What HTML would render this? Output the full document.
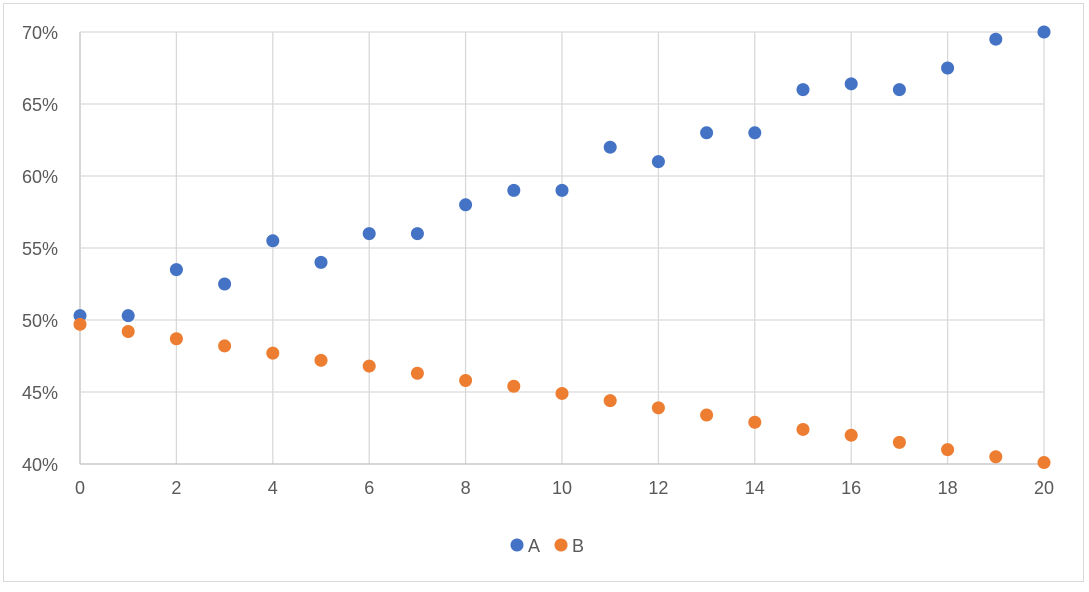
<!DOCTYPE html>
<html><head><meta charset="utf-8"><style>
body{margin:0;background:#fff;font-family:"Liberation Sans",sans-serif}
svg text{font-family:"Liberation Sans",sans-serif;fill:#595959;font-size:18px}
</style></head><body>
<svg id="chart" width="1089" height="587" xmlns="http://www.w3.org/2000/svg">
<rect x="3.5" y="3.5" width="1080" height="578" fill="#fff" stroke="#d9d9d9"/>
<g id="grid"></g><g id="pts"></g>
<g>
<circle cx="517" cy="545" r="6.5" fill="#4472c4"/>
<text x="528" y="552">A</text>
<circle cx="561" cy="545" r="6.5" fill="#ed7d31"/>
<text x="572" y="552">B</text>
</g>
</svg>
<script>
const xTicks=[0,2,4,6,8,10,12,14,16,18,20];
const yTicks=[40,45,50,55,60,65,70];
const seriesA=[50.3,50.3,53.5,52.5,55.5,54,56,56,58,59,59,62,61,63,63,66,66.4,66,67.5,69.5,70];
const seriesB=[49.7,49.2,48.7,48.2,47.7,47.2,46.8,46.3,45.8,45.4,44.9,44.4,43.9,43.4,42.9,42.4,42.0,41.5,41.0,40.5,40.1];
const L=80,R=1044,T=32,B=464;
const sx=v=>L+(v-0)/20*(R-L);
const sy=v=>B-(v-40)/30*(B-T);
const NS="http://www.w3.org/2000/svg";
const g=document.getElementById('grid'),p=document.getElementById('pts');
function mk(t,a,par){const e=document.createElementNS(NS,t);for(const k in a)e.setAttribute(k,a[k]);par.appendChild(e);return e;}
xTicks.forEach(v=>{
 const l=mk('line',{x1:sx(v),x2:sx(v),y1:T,y2:B,stroke:v===0?'#bfbfbf':'#d9d9d9','stroke-width':1.3},g);
 
 
 const t=mk('text',{x:sx(v),y:B+30,'text-anchor':'middle'},g);t.textContent=v;
 
 
});
yTicks.forEach(v=>{
 const l=mk('line',{x1:L,x2:R,y1:sy(v),y2:sy(v),stroke:v===40?'#bfbfbf':'#d9d9d9','stroke-width':1.3},g);
 
 
 const t=mk('text',{x:58,y:sy(v)+7,'text-anchor':'end'},g);t.textContent=v+'%';
 
 
});
seriesA.forEach((v,i)=>{const c=mk('circle',{cx:sx(i),cy:sy(v),r:6.5,fill:'#4472c4'},p);
 
 });
seriesB.forEach((v,i)=>{const c=mk('circle',{cx:sx(i),cy:sy(v),r:6.5,fill:'#ed7d31'},p);
 
 });
</script>
</body></html>
